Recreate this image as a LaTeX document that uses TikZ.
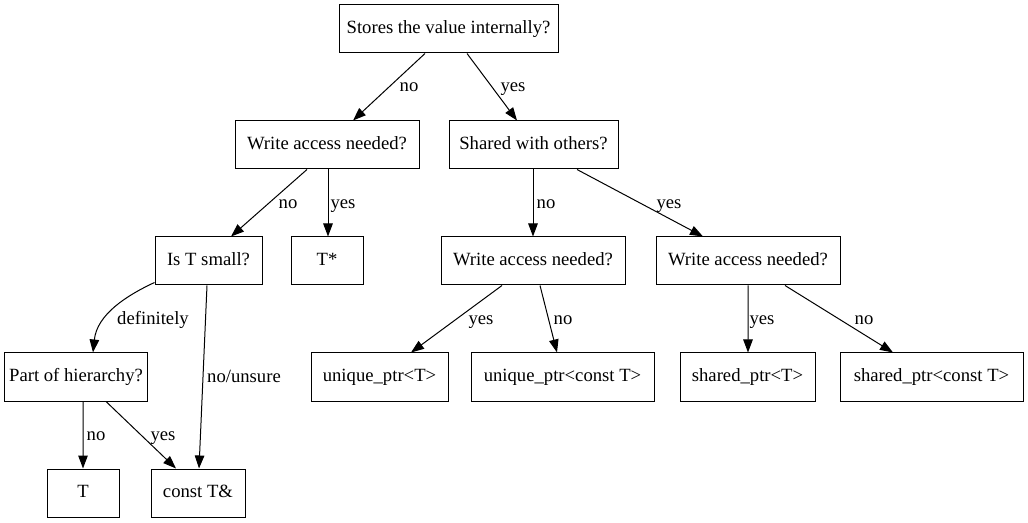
\documentclass[tikz,border=0pt]{standalone}
\usepackage{fontspec}
\setmainfont{Liberation Serif}
\usetikzlibrary{arrows.meta}
\begin{document}
\begin{tikzpicture}[x=1bp,y=-1bp,
  box/.style={draw, line width=1bp, inner sep=0pt, font=\fontsize{18.67bp}{21bp}\selectfont, text height=12.5bp, text depth=3.5bp},
  lbl/.style={inner sep=0pt, font=\fontsize{18.67bp}{21bp}\selectfont, text height=12.5bp, text depth=4bp},
  edge/.style={line width=1bp, -{Triangle[length=13bp,width=9.5bp]}}]
\useasboundingbox[fill=white] (0,0) rectangle (1028,523);
\node[box, minimum width=219bp, minimum height=48bp] (stores) at (448.5,29) {Stores the value internally?};
\node[box, minimum width=184bp, minimum height=48bp] (wanl) at (327,145) {Write access needed?};
\node[box, minimum width=169bp, minimum height=48bp] (shared) at (533.5,145) {Shared with others?};
\node[box, minimum width=107bp, minimum height=48bp] (ist) at (208.5,261) {Is T small?};
\node[box, minimum width=72bp, minimum height=48bp] (tstar) at (327,261) {T*};
\node[box, minimum width=184bp, minimum height=48bp] (wanm) at (533,261) {Write access needed?};
\node[box, minimum width=184bp, minimum height=48bp] (wanr) at (748,261) {Write access needed?};
\node[box, minimum width=142bp, minimum height=48bp] (part) at (76,377) {Part of hierarchy?};
\node[box, minimum width=137bp, minimum height=48bp] (uT) at (379.5,377) {unique\_ptr<T>};
\node[box, minimum width=183bp, minimum height=48bp] (uCT) at (562.5,377) {unique\_ptr<const T>};
\node[box, minimum width=135bp, minimum height=48bp] (sT) at (747.5,377) {shared\_ptr<T>};
\node[box, minimum width=183bp, minimum height=48bp] (sCT) at (931.5,377) {shared\_ptr<const T>};
\node[box, minimum width=72bp, minimum height=48bp] (T) at (83,493) {T};
\node[box, minimum width=94bp, minimum height=48bp] (cref) at (198,493) {const T\&};

\draw[edge] ([xshift=-23.5bp]stores.south) -- ([xshift=26bp]wanl.north);
\draw[edge] ([xshift=18.5bp]stores.south) -- ([xshift=-16.5bp]shared.north);
\draw[edge] ([xshift=-20bp]wanl.south) -- ([xshift=22.5bp]ist.north);
\draw[edge] ([xshift=1bp]wanl.south) -- ([xshift=1bp]tstar.north);
\draw[edge] ([xshift=-0.5bp]shared.south) -- ([xshift=0bp]wanm.north);
\draw[edge] ([xshift=43.5bp]shared.south) -- ([xshift=-45bp]wanr.north);
\draw[edge] ([xshift=-31bp]wanm.south) -- ([xshift=31.5bp]uT.north);
\draw[edge] ([xshift=7bp]wanm.south) -- ([xshift=-5.5bp]uCT.north);
\draw[edge] ([xshift=0bp]wanr.south) -- ([xshift=0.5bp]sT.north);
\draw[edge] ([xshift=37bp]wanr.south) -- ([xshift=-38.5bp]sCT.north);
\draw[edge] ([yshift=3bp]ist.south west) .. controls +(-28,13) and +(4,-38) .. ([xshift=17bp]part.north);
\draw[edge] ([xshift=-1.5bp]ist.south) -- ([xshift=1bp]cref.north);
\draw[edge] ([xshift=7bp]part.south) -- ([xshift=0bp]T.north);
\draw[edge] ([xshift=30bp]part.south) -- ([xshift=-22bp]cref.north);

\node[lbl] (l1) at (409,87) {no};
\node[lbl] (l2) at (513,87) {yes};
\node[lbl] (l3) at (288,204) {no};
\node[lbl] (l4) at (343,204) {yes};
\node[lbl] (l5) at (546,204) {no};
\node[lbl] (l6) at (669,204) {yes};
\node[lbl] (l7) at (481,320) {yes};
\node[lbl] (l8) at (563,320) {no};
\node[lbl] (l9) at (762,320) {yes};
\node[lbl] (l10) at (864,320) {no};
\node[lbl] (l11) at (153,320) {definitely};
\node[lbl] (l12) at (244,378) {no/unsure};
\node[lbl] (l13) at (96,436) {no};
\node[lbl] (l14) at (163,436) {yes};
\end{tikzpicture}
\end{document}
